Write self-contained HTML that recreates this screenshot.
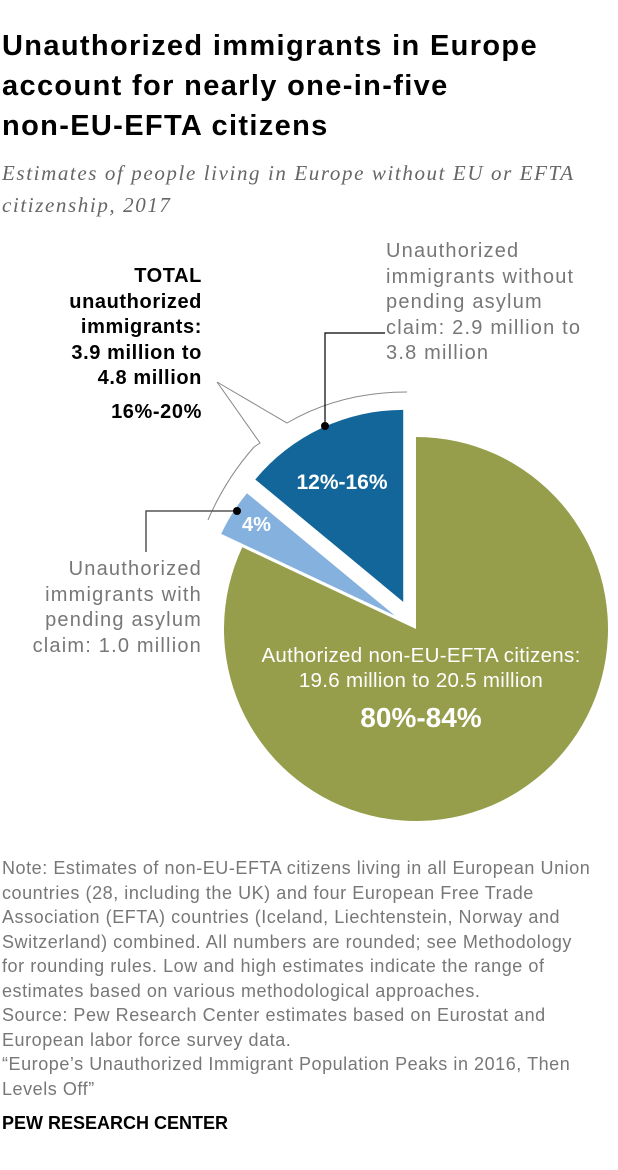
<!DOCTYPE html>
<html><head><meta charset="utf-8">
<style>
body{margin:0;width:618px;height:1170px;background:#fff;font-family:"Liberation Sans",sans-serif;position:relative;overflow:hidden}
.t{position:absolute;white-space:nowrap}
</style></head><body>
<div class="t" style="left:2px;top:26px;font-size:29px;letter-spacing:1.35px;font-weight:bold;line-height:40px;color:#000">Unauthorized immigrants in Europe<br>account for nearly one-in-five<br>non-EU-EFTA citizens</div>
<div class="t" style="left:2px;top:157px;font-family:'Liberation Serif',serif;font-style:italic;font-size:21px;letter-spacing:1.6px;line-height:32px;color:#666">Estimates of people living in Europe without EU or EFTA<br>citizenship, 2017</div>
<svg class="t" style="left:0;top:0" width="618" height="850">
<g id="pie"></g>
<path d="M217,382 L260,443 L254,447 Q225,480 208,520" fill="none" stroke="#888" stroke-width="1"/>
<path d="M217,382 L287,423 Q340,392 407,392" fill="none" stroke="#888" stroke-width="1"/>
<path d="M146,552 L146,511 L237,511" fill="none" stroke="#555" stroke-width="1.5"/>
<circle cx="237" cy="511" r="4" fill="#000"/>
<path d="M325,426 L325,333 L385,333" fill="none" stroke="#000" stroke-width="1.2"/>
<circle cx="325" cy="426" r="4" fill="#000"/>
<text x="342" y="489" fill="#fff" font-size="21" font-weight="bold" text-anchor="middle" font-family="Liberation Sans">12%-16%</text>
<text x="242" y="531" fill="#fff" font-size="20" font-weight="bold" font-family="Liberation Sans">4%</text>
<text x="421" y="662" fill="#fff" font-size="20.5" text-anchor="middle" font-family="Liberation Sans" letter-spacing="0.3">Authorized non-EU-EFTA citizens:</text>
<text x="421" y="687" fill="#fff" font-size="20.5" text-anchor="middle" font-family="Liberation Sans" letter-spacing="0.3">19.6 million to 20.5 million</text>
<text x="421" y="727" fill="#fff" font-size="28" font-weight="bold" text-anchor="middle" font-family="Liberation Sans">80%-84%</text>
</svg>
<div class="t" style="right:416px;top:264px;text-align:right;font-size:20px;letter-spacing:0.6px;font-weight:bold;line-height:25.5px;color:#000">TOTAL<br>unauthorized<br>immigrants:<br>3.9 million to<br>4.8 million<br><span style="line-height:40px">16%-20%</span></div>
<div class="t" style="left:386px;top:239px;font-size:20px;letter-spacing:1.2px;line-height:25.5px;color:#777">Unauthorized<br>immigrants without<br>pending asylum<br>claim: 2.9 million to<br>3.8 million</div>
<div class="t" style="right:416px;top:557px;text-align:right;font-size:20px;letter-spacing:1.2px;line-height:25.5px;color:#777">Unauthorized<br>immigrants with<br>pending asylum<br>claim: 1.0 million</div>
<div class="t" style="left:2px;top:856px;font-size:18px;letter-spacing:0.55px;line-height:24.5px;color:#777">Note: Estimates of non-EU-EFTA citizens living in all European Union<br>countries (28, including the UK) and four European Free Trade<br>Association (EFTA) countries (Iceland, Liechtenstein, Norway and<br>Switzerland) combined. All numbers are rounded; see Methodology<br>for rounding rules. Low and high estimates indicate the range of<br>estimates based on various methodological approaches.<br>Source: Pew Research Center estimates based on Eurostat and<br>European labor force survey data.<br>“Europe’s Unauthorized Immigrant Population Peaks in 2016, Then<br>Levels Off”</div>
<div class="t" style="left:2px;top:1113px;font-size:18px;font-weight:bold;color:#000">PEW RESEARCH CENTER</div>
<script>
const categories=["Authorized","Unauthorized without asylum claim","Unauthorized with asylum claim"];
const values=[82,14,4];
const colors=["#969e4b","#136699","#85b1de"];
const explode=[0,30,25];
const cx=416,cy=629,r=192;
const g=document.getElementById('pie');
const total=values.reduce((a,b)=>a+b,0);
function pt(x,y,a,rr){return [x+rr*Math.sin(a),y-rr*Math.cos(a)];}
const order=[0,2,1];
let start=0;
order.forEach(i=>{
  const sweep=values[i]/total*2*Math.PI;
  const mid=start+sweep/2;
  const ox=cx+explode[i]*Math.sin(mid), oy=cy-explode[i]*Math.cos(mid);
  const p1=pt(ox,oy,start,r), p2=pt(ox,oy,start+sweep,r);
  const large=sweep>Math.PI?1:0;
  const p=document.createElementNS('http://www.w3.org/2000/svg','path');
  p.setAttribute('d',`M${ox},${oy} L${p1[0]},${p1[1]} A${r},${r} 0 ${large} 1 ${p2[0]},${p2[1]} Z`);
  p.setAttribute('fill',colors[i]);
  
  
  g.appendChild(p);
  start+=sweep;
});
</script>
</body></html>
